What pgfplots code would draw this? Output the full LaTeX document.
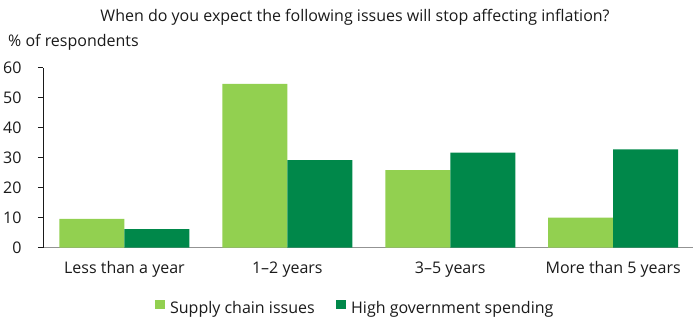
\documentclass[border=0pt]{standalone}
\usepackage{pgfplots}
\pgfplotsset{compat=1.18}
\usepackage{fontspec}
\setmainfont{Open Sans}
\usetikzlibrary{calc}
\definecolor{lightg}{HTML}{92D050}
\definecolor{darkg}{HTML}{00884A}
\definecolor{txt}{HTML}{1A1A1A}
\begin{document}
\fontsize{16bp}{19bp}\selectfont
\begin{tikzpicture}[x=1bp,y=1bp]
\begin{axis}[
  name=ax,
  scale only axis,
  width=650bp, height=180bp,
  xmin=-0.5, xmax=3.49,
  ymin=0, ymax=60,
  ytick={0,10,...,60},
  xtick={0,1,2,3},
  xticklabels={Less than a year,1--2 years,3--5 years,More than 5 years},
  axis x line*=bottom,
  axis y line*=left,
  x axis line style={draw=gray!85, line width=1.3pt, -},
  y axis line style={draw=txt, line width=0.8pt, -},
  major tick length=5bp,
  xtick style={draw=none},
  ytick style={draw=txt, line width=0.8pt},
  tick align=outside,
  /pgf/number format/assume math mode=true,
  ticklabel style={font=\fontsize{16bp}{19bp}\selectfont, text=txt},
  yticklabel style={xshift=-11bp},
  xticklabel style={anchor=base, yshift=-20.6bp},
  ybar=0pt,
  bar width=65bp,
  legend columns=2,
  legend style={draw=none, at={(0.48,-0.34)}, anchor=center,
    font=\fontsize{16bp}{19bp}\selectfont, text=txt,
    /tikz/every odd column/.append style={column sep=3bp},
    /tikz/every even column/.append style={column sep=19bp}},
  legend image code/.code={\fill[#1] (0bp,-0.5bp) rectangle (10.5bp,9bp);},
]
\addplot[fill=lightg, draw=none] coordinates {(0,9.6) (1,54.6) (2,25.9) (3,10.0)};
\addplot[fill=darkg, draw=none] coordinates {(0,6.2) (1,29.2) (2,31.7) (3,32.8)};
\legend{Supply chain issues, High government spending}
\end{axis}
\node[anchor=base, text=txt, font=\fontsize{16bp}{19bp}\selectfont] at ($(ax.south west)+(312bp,226.5bp)$) {When do you expect the following issues will stop affecting inflation?};
\node[anchor=base west, inner sep=0pt, text=txt, font=\fontsize{16bp}{19bp}\selectfont] at ($(ax.south west)+(-35bp,201.5bp)$) {\% of respondents};
\pgfresetboundingbox
\path[use as bounding box] ($(ax.south west)+(-43bp,-72.3bp)$) rectangle ($(ax.south west)+(650bp,247.7bp)$);
\end{tikzpicture}
\end{document}
